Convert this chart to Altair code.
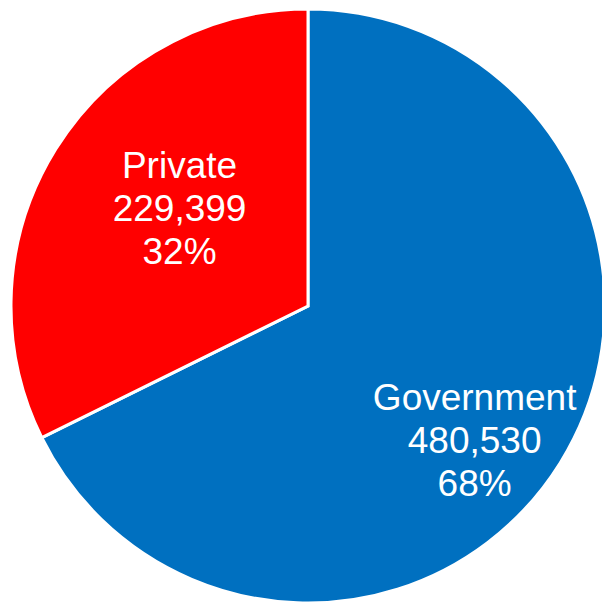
import altair as alt
import pandas as pd

categories = ["Government", "Private"]
values = [480530, 229399]
colors = ["#0070C0", "#FF0000"]

df = pd.DataFrame({"category": categories, "value": values, "rank": [0, 1]})
total_value = sum(values)

base = alt.Chart(df).transform_joinaggregate(
    total="sum(value)"
).transform_stack(
    stack="value", as_=["v0", "v1"], groupby=[], sort=[alt.SortField("rank", order="ascending")]
).transform_calculate(
    mid="(datum.v0 + datum.v1) / 2",
    label="[datum.category, format(datum.value, ','), format(datum.value / datum.total, '.0%')]",
)

theta_scale = alt.Scale(domain=[0, total_value])

arcs = base.mark_arc(outerRadius=297, stroke="white", strokeWidth=3).encode(
    theta=alt.Theta("v0:Q", scale=theta_scale),
    theta2="v1:Q",
    color=alt.Color("category:N",
                    scale=alt.Scale(domain=categories, range=colors),
                    legend=None),
)

text_style = dict(font="Liberation Sans", fontSize=37, color="white",
                  align="center", baseline="middle", lineHeight=43)

gov_text = base.transform_filter("datum.category == 'Government'").mark_text(
    radius=215, dx=-16, dy=-20, **text_style
).encode(theta=alt.Theta("mid:Q", scale=theta_scale), text="label:N")

priv_text = base.transform_filter("datum.category == 'Private'").mark_text(
    radius=163, dx=10, dy=-53, **text_style
).encode(theta=alt.Theta("mid:Q", scale=theta_scale), text="label:N")

chart = alt.layer(arcs, gov_text, priv_text).properties(
    width=588, height=594,
    autosize=alt.AutoSizeParams(type="none"),
    padding={"left": 14, "top": 9, "right": 0, "bottom": 0},
).configure_view(stroke=None)

chart.save("out.html", embed_options={"renderer": "svg", "actions": False})
